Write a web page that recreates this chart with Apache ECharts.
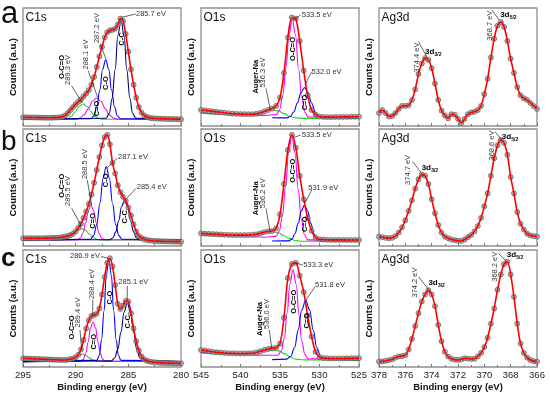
<!DOCTYPE html>
<html><head><meta charset="utf-8">
<script src="https://cdn.jsdelivr.net/npm/echarts@6/dist/echarts.min.js"></script>
<style>html,body{margin:0;padding:0;background:#fff}#c{width:550px;height:394px}</style>
</head><body><div id="c"></div>
<script>
// ---------- measured spectra (y = % of panel height) ----------
// C1s: 295 -> 280 eV, step 0.25 ; O1s: 545 -> 525 eV, step 0.5 ; Ag3d: 378 -> 366 eV, step 0.25
const c1sA = [7.4,7.4,7.3,7.3,7.2,7.2,7.1,7.1,7.0,7.0,7.0,7.0,7.1,7.2,7.3,7.8,9.0,11,13.5,16,18.5,20.5,22.5,25,27.5,30.5,35,41.5,50,59,67,75,79.5,81,81.5,82.5,86,91,89,78,63,48,35,24,16,11.5,9,7.6,7,6.6,6.4,6.3,6.2,6.1,6.0,6.0,5.9,5.9,5.8,5.8,5.7];
const c1sB = [6.6,6.6,6.6,6.6,6.6,6.6,6.6,6.6,6.7,6.7,6.8,6.9,7.0,7.1,7.3,7.6,8.0,8.6,9.4,10.5,12.5,15.5,19,24,29.5,36,44,54,65,76,86,93,95,87,71,62,52,46,42,38.5,33,26,18.5,12.5,8.5,6.8,5.8,5.2,4.8,4.5,4.3,4.2,4.1,4.0,3.9,3.9,3.8,3.8,3.7,3.7,3.7];
const c1sC = [7.4,7.3,7.2,7.1,7.0,6.9,6.8,6.7,6.6,6.5,6.4,6.3,6.2,6.1,6.0,6.0,6.0,6.2,6.6,7.3,8.3,10.5,15,23,33,40,43.5,44.5,45.5,50,62,77,89,93,86,70,54,49.5,52.5,56.5,56,46,33,22,14,9,6.5,5.3,4.7,4.3,4.0,3.8,3.6,3.5,3.4,3.3,3.3,3.2,3.2,3.1,3.1];
const o1sA = [13.6,13.2,12.8,12.4,12.0,11.6,11.2,10.8,10.5,10.3,10.1,10.0,10.0,10.0,10.3,11,12.3,13.6,14.8,17,24,45,75,92,91,72,47,26,13.5,9.5,8,7.6,7.5,7.5,7.6,7.6,7.7,7.7,7.8,7.8,7.9];
const o1sB = [10.8,10.6,10.4,10.2,10.0,9.8,9.6,9.5,9.4,9.3,9.3,9.3,9.4,9.6,10.0,10.8,11.8,12.4,12.8,15,27,53,82,95,84,60,40,24,13,7,5.8,5.5,5.3,5.2,5.2,5.2,5.2,5.1,5.1,5.1,5.1];
const o1sC = [14.5,14.0,13.5,13.0,12.6,12.3,12.0,11.8,11.7,11.6,11.6,11.6,11.7,11.8,12.4,13.4,14.6,15.4,15.9,16.5,20,42,76,88,89,78,64,44,26,13,8.5,7.6,7.4,7.3,7.3,7.3,7.3,7.4,7.4,7.5,7.6];
const ag3dA = [11,13.5,11,8,8.5,11,14.5,17,17,17.5,22,31,44,53,57.5,56,49,36,22,13,9,6.5,10,9.5,6,2.5,6,10,11.5,12,13.5,17,27,40,58,74,85,88,84,72,57,45,33,26,23.5,22,19.5,17,14.5];
const ag3dB = [8,7.5,7,6.7,7,8.5,11.5,16,22,30,39,49,57,61,60,53,40,28,18,11.5,8,6.7,5.5,5,4.5,4.3,5.5,7.5,9.5,12.5,17,24,34,45,60,75,86,90.5,88,78,59,45,29,19,14,10.5,9,8.5,8];
const ag3dC = [4.6,4.8,5.2,5.8,6.5,8,9,9.3,10,15,24,35,46,56,62,65.5,62,52,36,22,13,9,7,6.2,6,6.5,7.4,7.2,6.8,7,9,12,17,25,37,50,66,79,88,90,79,60,37,20,12,8,6,5,4.6];

// ---------- fitted components [eV, y] ----------
const c1sA_oco = [[295,5.5],[291.2,5.7],[290.8,6.3],[290.4,8.3],[290.05,12.1],[289.7,16.5],[289.3,18.6],[288.9,16.5],[288.55,12.1],[288.2,8.3],[287.8,6.3],[287.4,5.7],[280,5.5]];
const c1sA_ceo = [[295,5.5],[290,5.75],[289.6,6.65],[289.2,9.4],[288.8,14.75],[288.4,21],[288,24],[287.6,21],[287.2,14.75],[286.8,9.4],[286.4,6.65],[286,5.75],[280,5.5]];
const c1sA_co  = [[295,5.5],[288.55,6.2],[288.25,8.7],[288,16.1],[287.7,30.75],[287.45,47.9],[287.15,56],[286.85,47.9],[286.6,30.75],[286.3,16.1],[286.05,8.7],[285.75,6.2],[280,5.5]];
const c1sA_cc  = [[295,5.5],[287.1,6.6],[286.8,10.8],[286.55,23.25],[286.25,47.75],[286,76.5],[285.7,90],[285.4,76.5],[285.15,47.75],[284.85,23.25],[284.6,10.8],[284.3,6.6],[280,5.5]];
const c1sB_oco = [[295,5],[291.35,5.1],[290.95,5.6],[290.6,7.1],[290.2,10],[289.85,13.4],[289.45,15],[289.05,13.4],[288.7,10],[288.3,7.1],[287.95,5.6],[287.55,5.1],[280,5]];
const c1sB_ceo = [[295,5],[289.8,5.4],[289.55,6.9],[289.3,11.3],[289.05,20],[288.8,30.2],[288.55,35],[288.3,30.2],[288.05,20],[287.8,11.3],[287.55,6.9],[287.3,5.4],[280,5]];
const c1sB_co  = [[295,5],[288.6,5.8],[288.3,8.9],[288,18.2],[287.7,36.5],[287.4,57.9],[287.1,68],[286.8,57.9],[286.5,36.5],[286.2,18.2],[285.9,8.9],[285.6,5.8],[280,5]];
const c1sB_cc  = [[295,5],[286.75,5.4],[286.45,7.1],[286.2,12.1],[285.9,22],[285.65,33.6],[285.35,39],[285.05,33.6],[284.8,22],[284.5,12.1],[284.25,7.1],[283.95,5.4],[280,5]];
const c1sC_oco = [[295,4.6],[291.15,4.7],[290.8,5],[290.45,5.9],[290.1,7.8],[289.75,10],[289.4,11],[289.05,10],[288.7,7.8],[288.35,5.9],[288,5],[287.65,4.7],[280,4.6]];
const c1sC_ceo = [[295,4.6],[289.5,5],[289.25,6.7],[289.05,11.7],[288.8,21.6],[288.6,33.2],[288.35,38.5],[288.1,33.2],[287.9,21.6],[287.65,11.7],[287.45,6.7],[287.2,5],[280,4.6]];
const c1sC_co  = [[295,4.6],[288,5.7],[287.75,10],[287.55,23],[287.3,48.3],[287.1,78],[286.85,92],[286.6,78],[286.4,48.3],[286.15,23],[285.95,10],[285.7,5.7],[280,4.6]];
const c1sC_cc  = [[295,4.6],[286.6,5.25],[286.3,7.75],[286,15.2],[285.7,29.8],[285.4,46.9],[285.1,55],[284.8,46.9],[284.5,29.8],[284.2,15.2],[283.9,7.75],[283.6,5.25],[280,4.6]];
const o1sA_na  = [[545,10.8],[542,9.8],[540,9.5],[538.5,10.2],[537.5,11.6],[536.6,13],[535.9,13.6],[535.2,12.8],[534.5,10.5],[533.8,8.2],[533,6.9],[532,6.5],[525,6.5]];
const o1sA_oco = [[545,11],[540,9.5],[537,9],[535.45,9.6],[535.05,13.8],[534.65,25.7],[534.25,49.8],[533.85,77.8],[533.45,91],[533.05,77.5],[532.65,48.75],[532.25,24.2],[531.85,11.8],[531.45,7.6],[525,6.5]];
const o1sA_ceo = [[536,7],[534.15,6.85],[533.7,8.1],[533.25,12],[532.8,19.5],[532.35,28.3],[531.9,32.5],[531.45,28.3],[531,19.5],[530.55,12],[530.1,8.1],[529.65,6.85],[525,6.5]];
const o1sB_na  = [[545,9],[542,8.5],[540,8.3],[538.5,9],[537.5,10.5],[536.6,11.7],[535.9,12.2],[535.2,11.3],[534.5,8.8],[533.8,6.3],[533,4.6],[532,4],[525,4]];
const o1sB_oco = [[545,9.5],[540,8.3],[537,7.5],[535.5,8.2],[535.1,12.5],[534.7,25.5],[534.3,50.8],[533.9,80.6],[533.5,94.6],[533.1,79.6],[532.7,49],[532.3,22.9],[531.9,9.6],[531.5,5.2],[525,4]];
const o1sB_ceo = [[536,4.3],[533.9,4.4],[533.5,5.9],[533.1,10.5],[532.7,19.5],[532.3,30],[531.9,35],[531.5,30],[531.1,19.5],[530.7,10.5],[530.3,5.9],[529.9,4.4],[525,4]];
const o1sC_na  = [[545,12],[542,11],[540,10.8],[538.5,11.5],[537.5,12.8],[536.5,14],[535.8,14.5],[535.1,13.6],[534.4,11.2],[533.7,8.5],[533,6.7],[532,6.1],[525,6]];
const o1sC_oco = [[545,12.5],[540,10.8],[537,10],[535.25,10],[534.85,13.6],[534.45,24.5],[534.1,46],[533.75,71.2],[533.35,83],[532.95,70.7],[532.6,44.5],[532.25,22.2],[531.85,10.8],[531.45,7],[525,6]];
const o1sC_ceo = [[536,6.3],[534.15,6.7],[533.65,9.2],[533.15,16.7],[532.7,31.5],[532.25,48.8],[531.75,57],[531.25,48.8],[530.8,31.5],[530.35,16.7],[529.85,9.2],[529.35,6.7],[525,6]];

// ---------- annotations (data coords: panel, eV, y%) ----------
const energyLabels = [
 [0,284.27,94.9,'285.7 eV',0,'left'],[0,288.0,83,'287.2 eV',1],[0,289.02,60.6,'288.1 eV',1],[0,290.7,47.5,'289.3 eV',1],
 [3,285.98,75.8,'287.1 eV',0,'left'],[3,284.2,50.1,'285.4 eV',0,'left'],[3,289.11,70,'288.5 eV',1],[3,290.7,47,'289.5 eV',1],
 [6,287.69,94.9,'286.9 eV',0,'right'],[6,285.95,72.9,'285.1 eV',0,'left'],[6,288.48,70.9,'288.4 eV',1],[6,289.75,46.6,'289.4 eV',1],
 [1,532.25,94.1,'533.5 eV',0,'left'],[1,531.0,46,'532.0 eV',0,'left'],[1,537.11,45.3,'536.3 eV',1],
 [4,532.25,94.9,'533.5 eV',0,'left'],[4,531.42,49.8,'531.9 eV',0,'left'],[4,537.11,45,'536.2 eV',1],
 [7,532.05,87.2,'533.3 eV',0,'left'],[7,530.57,70,'531.8 eV',0,'left'],[7,536.6,45.3,'536.0 eV',1],
 [2,369.57,85,'368.7 eV',1],[2,375.14,58,'374.4 eV',1],
 [5,369.44,85.9,'368.6 eV',1],[5,375.77,65,'374.7 eV',1],
 [8,369.19,85.7,'368.2 eV',1],[8,375.27,72.2,'374.2 eV',1]
];
const bondLabels = [
 [0,285.63,73.7,'C-C'],[0,287.12,36.4,'C-O'],[0,288.0,14.8,'C=O'],[0,291.3,50,'O-C=O'],
 [3,287.12,56.1,'C-O'],[3,285.32,25,'C-C'],[3,288.38,21.5,'C=O'],[3,291.3,51.5,'O-C=O'],
 [6,286.74,59.4,'C-O'],[6,285.0,38.7,'C-C'],[6,288.26,21.6,'C=O'],[6,290.38,33.8,'O-C=O'],
 [1,533.4,65.3,'O-C=O'],[1,531.84,19.9,'C=O'],[1,538.04,41.8,'Auger-Na'],
 [4,533.4,64.3,'O-C=O'],[4,531.84,18.6,'C=O'],[4,538.04,40.8,'Auger-Na'],
 [7,533.23,55.8,'O-C=O'],[7,531.62,39.5,'C=O'],[7,537.53,41,'Auger-Na']
];
const orbitalLabels = [
 [2,368.8,94.1,'5/2'],[2,374.5,63,'3/2'],
 [5,368.68,93.4,'5/2'],[5,374.76,66.7,'3/2'],
 [8,368.3,95.7,'5/2'],[8,374.25,71.8,'3/2']
];
const leaders = [
 [0,285.63,92.1,284.3,94.9],[0,287.69,69.5,287.12,56.8],[0,288.8,46.6,287.93,24.6],[0,290.38,33.9,289.35,19.5],
 [3,287.05,66.4,286.05,75],[3,285.3,39.3,284.27,49.3],[3,288.9,56.4,288.48,35],[3,290.38,32.2,289.43,16.5],
 [6,287.6,94.4,286.9,92.9],[6,285.1,69.2,285.1,57.3],[6,288.38,57.3,288.38,43.6],[6,289.59,31.6,289.43,14.5],
 [1,533.32,89.8,532.38,94.1],[1,531.84,34.7,530.99,46],[1,536.77,31.9,536.27,15],
 [4,533.32,92.6,532.38,94.9],[4,531.84,36.5,530.99,47.9],[4,536.77,32.2,536.27,12.8],
 [7,533.1,89.1,532.13,87.2],[7,531.7,57.3,530.57,68.6],[7,536.35,31.6,536.05,16],
 [2,369.44,98.3,368.86,89.8],[2,375.0,71.5,374.38,58.8],
 [5,369.19,97.7,368.68,90.6],[5,375.44,72,374.76,62.1],
 [8,368.94,97.2,368.3,90],[8,375.0,77.2,374.25,66.4]
];

const kinds = {
 C1s:{start:295,end:280,step:0.25,interval:5},
 O1s:{start:545,end:525,step:0.5,interval:5},
 Ag3d:{start:378,end:366,step:0.25,interval:2}
};
const GREEN='#22d322', MAG='#ff00ff', BLUE='#0000ff', NAVY='#000080';
const panels = [
 {kind:'C1s', y:c1sA, comps:[[c1sA_oco,GREEN],[c1sA_ceo,MAG],[c1sA_co,BLUE],[c1sA_cc,NAVY]]},
 {kind:'O1s', y:o1sA, comps:[[o1sA_na,GREEN],[o1sA_oco,MAG],[o1sA_ceo,BLUE]]},
 {kind:'Ag3d', y:ag3dA, comps:[]},
 {kind:'C1s', y:c1sB, comps:[[c1sB_oco,GREEN],[c1sB_ceo,MAG],[c1sB_co,BLUE],[c1sB_cc,NAVY]]},
 {kind:'O1s', y:o1sB, comps:[[o1sB_na,GREEN],[o1sB_oco,MAG],[o1sB_ceo,BLUE]]},
 {kind:'Ag3d', y:ag3dB, comps:[]},
 {kind:'C1s', y:c1sC, comps:[[c1sC_oco,GREEN],[c1sC_ceo,MAG],[c1sC_co,BLUE],[c1sC_cc,NAVY]]},
 {kind:'O1s', y:o1sC, comps:[[o1sC_na,GREEN],[o1sC_oco,MAG],[o1sC_ceo,BLUE]]},
 {kind:'Ag3d', y:ag3dC, comps:[]}
];
const rowLetters = ['a','b','c'];

// ---------- layout ----------
const colLeft = [23,201,379], colW = 158;
const rowTop = [8,129,250], rowH = [118,117,117];
const FONT = '"Liberation Sans", Arial, Helvetica, sans-serif';

const chart = echarts.init(document.getElementById('c'), null, {renderer:'canvas'});
const grids=[], xAxes=[], yAxes=[], series=[];
panels.forEach((pn,i)=>{
  const r=Math.floor(i/3), c=i%3, k=kinds[pn.kind];
  grids.push({left:colLeft[c], top:rowTop[r], width:colW, height:rowH[r], show:true, borderColor:'#8f8f8f', borderWidth:1.3});
  xAxes.push({gridIndex:i, type:'value', min:k.end, max:k.start, interval:k.interval, inverse:true,
    axisLine:{show:false}, splitLine:{show:false},
    axisTick:{show:true, inside:true, length:3, lineStyle:{color:'#777', width:1}},
    minorTick:{show:true, splitNumber:2, length:2, lineStyle:{color:'#777', width:1}},
    axisLabel:{show:r===2, fontSize:9.5, color:'#222', margin:3, fontFamily:FONT},
    name: r===2 ? 'Binding energy (eV)' : '', nameLocation:'middle', nameGap:15,
    nameTextStyle:{fontWeight:'bold', fontSize:9.5, color:'#111', fontFamily:FONT}});
  yAxes.push({gridIndex:i, type:'value', min:0, max:100,
    axisLine:{show:false}, axisTick:{show:false}, axisLabel:{show:false}, splitLine:{show:false},
    name:'Counts (a.u.)', nameLocation:'middle', nameGap:5,
    nameTextStyle:{fontWeight:'bold', fontSize:9.5, color:'#111', fontFamily:FONT}});
  pn.comps.forEach(([d,col])=>{
    series.push({type:'line', xAxisIndex:i, yAxisIndex:i, data:d, smooth:0.4, smoothMonotone:'x', showSymbol:false, silent:true,
      lineStyle:{color:col, width:1.1}, z:2});
  });
  const pts = pn.y.map((v,j)=>[+(k.start - j*k.step).toFixed(2), v]);
  series.push({type:'scatter', xAxisIndex:i, yAxisIndex:i, data:pts, symbol:'circle', symbolSize:5, silent:true,
    itemStyle:{color:'#a0a0a0', borderColor:'#505050', borderWidth:0.8}, z:3});
  series.push({type:'line', xAxisIndex:i, yAxisIndex:i, data:pts, smooth:0.3, showSymbol:false, silent:true,
    lineStyle:{color:'#ff0000', width:1.6}, z:4});
});
chart.setOption({animation:false, grid:grids, xAxis:xAxes, yAxis:yAxes, series:series});

// ---------- annotations ----------
const g=[];
const px=(p,x,y)=>chart.convertToPixel({gridIndex:p},[x,y]);
energyLabels.forEach(([p,x,y,t,v,al])=>{
  const [X,Y]=px(p,x,y);
  g.push({type:'text', x:X, y:Y, rotation:v?Math.PI/2:0, z:100, silent:true,
    style:{text:t, fill:'#333', fontSize:7.5, fontFamily:FONT,
      textAlign:v?'center':al, textVerticalAlign:'middle', align:v?'center':al, verticalAlign:'middle'}});
});
bondLabels.forEach(([p,x,y,t])=>{
  const [X,Y]=px(p,x,y);
  g.push({type:'text', x:X, y:Y, rotation:Math.PI/2, z:100, silent:true,
    style:{text:t, fill:'#000', fontSize:7.5, fontWeight:'bold', fontFamily:FONT,
      textAlign:'center', textVerticalAlign:'middle', align:'center', verticalAlign:'middle'}});
});
orbitalLabels.forEach(([p,x,y,s])=>{
  const [X,Y]=px(p,x,y);
  g.push({type:'text', x:X, y:Y, z:100, silent:true,
    style:{text:'3d', fill:'#000', fontSize:8, fontWeight:'bold', fontFamily:FONT, textAlign:'left', textVerticalAlign:'middle', align:'left', verticalAlign:'middle'}});
  g.push({type:'text', x:X+9.5, y:Y+2.5, z:100, silent:true,
    style:{text:s, fill:'#000', fontSize:5, fontWeight:'bold', fontFamily:FONT, textAlign:'left', textVerticalAlign:'middle', align:'left', verticalAlign:'middle'}});
});
leaders.forEach(([p,x1,y1,x2,y2])=>{
  const [X1,Y1]=px(p,x1,y1), [X2,Y2]=px(p,x2,y2);
  g.push({type:'line', z:99, silent:true, shape:{x1:X1,y1:Y1,x2:X2,y2:Y2}, style:{stroke:'#222', lineWidth:0.7}});
});
// panel titles and row letters
const titles=['C1s','O1s','Ag3d'];
panels.forEach((pn,i)=>{
  const r=Math.floor(i/3), c=i%3;
  g.push({type:'text', x:colLeft[c]+2.5, y:rowTop[r]+9.5, z:100, silent:true,
    style:{text:titles[c], fill:'#111', fontSize:12, fontFamily:FONT, textAlign:'left', textVerticalAlign:'middle', align:'left', verticalAlign:'middle'}});
});
const letterStyle=[{s:31,w:'normal',dy:6.2},{s:28,w:'normal',dy:13.2},{s:26,w:'bold',dy:8.9}];
rowLetters.forEach((L,r)=>{
  const st=letterStyle[r];
  g.push({type:'text', x:1, y:rowTop[r]+st.dy, z:100, silent:true,
    style:{text:L, fill:'#111', fontSize:st.s, fontWeight:st.w, fontFamily:FONT, textAlign:'left', textVerticalAlign:'middle', align:'left', verticalAlign:'middle'}});
});
chart.setOption({graphic:g});
</script></body></html>
